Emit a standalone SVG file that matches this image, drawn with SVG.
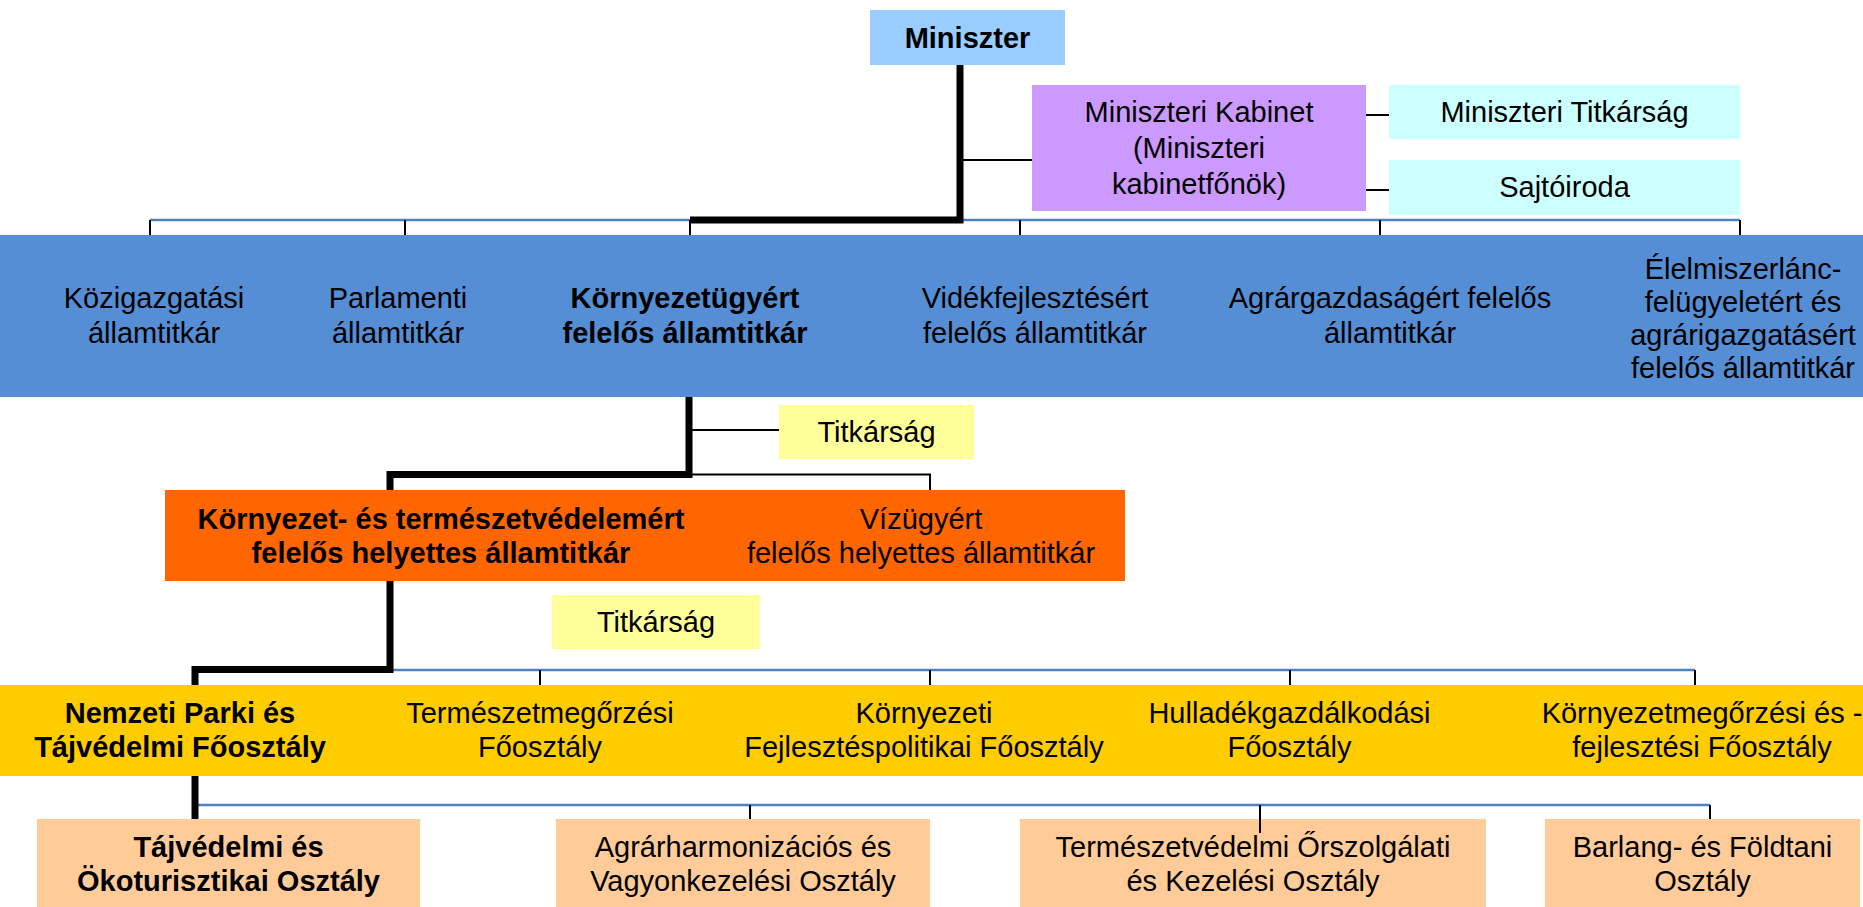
<svg xmlns="http://www.w3.org/2000/svg" width="1863" height="907" viewBox="0 0 1863 907">
<style>
text{font-family:"Liberation Sans",Arial,sans-serif;font-size:29px;fill:#000;text-anchor:middle}
.b{font-weight:bold}
.thick{fill:none;stroke:#000;stroke-width:7;stroke-linejoin:miter}
.thin{fill:none;stroke:#000;stroke-width:2}
.blue{fill:none;stroke:#4F81BD;stroke-width:2.5}
</style>
<rect width="1863" height="907" fill="#fff"/>
<g id="nodes">
<g id="miniszter"><rect x="870" y="10" width="195" height="55" fill="#99CCFF"/><text class="b" x="967.5" y="48">Miniszter</text></g>
<g id="kabinet"><rect x="1032" y="85" width="334" height="126" fill="#CC99FF"/><text x="1199" y="122">Miniszteri Kabinet</text><text x="1199" y="158">(Miniszteri</text><text x="1199" y="194">kabinetfőnök)</text></g>
<g id="min-titkarsag"><rect x="1389" y="85" width="351" height="54" fill="#CCFFFF"/><text x="1564.5" y="122">Miniszteri Titkárság</text></g>
<g id="sajtoiroda"><rect x="1389" y="160" width="351" height="55" fill="#CCFFFF"/><text x="1564.5" y="197">Sajtóiroda</text></g>
<g id="allamtitkarok"><rect x="0" y="235" width="1863" height="162" fill="#558ED5"/>
<text x="154" y="308">Közigazgatási</text><text x="154" y="343">államtitkár</text>
<text x="398" y="308">Parlamenti</text><text x="398" y="343">államtitkár</text>
<text class="b" x="685" y="308">Környezetügyért</text><text class="b" x="685" y="343">felelős államtitkár</text>
<text x="1035" y="308">Vidékfejlesztésért</text><text x="1035" y="343">felelős államtitkár</text>
<text x="1390" y="308">Agrárgazdaságért felelős</text><text x="1390" y="343">államtitkár</text>
<text x="1743" y="279">Élelmiszerlánc-</text><text x="1743" y="312">felügyeletért és</text><text x="1743" y="345">agrárigazgatásért</text><text x="1743" y="378">felelős államtitkár</text>
</g>
<g id="titkarsag1"><rect x="779" y="405" width="195" height="54" fill="#FFFF99"/><text x="876.5" y="442">Titkárság</text></g>
<g id="helyettes"><rect x="165" y="490" width="960" height="91" fill="#FF6600"/>
<text class="b" x="441" y="529">Környezet- és természetvédelemért</text><text class="b" x="441" y="563">felelős helyettes államtitkár</text>
<text x="921" y="529">Vízügyért</text><text x="921" y="563">felelős helyettes államtitkár</text>
</g>
<g id="titkarsag2"><rect x="552" y="595" width="208" height="54" fill="#FFFF99"/><text x="656" y="632">Titkárság</text></g>
<g id="foosztalyok"><rect x="0" y="685" width="1863" height="91" fill="#FFCC00"/>
<text class="b" x="180" y="723">Nemzeti Parki és</text><text class="b" x="180" y="757">Tájvédelmi Főosztály</text>
<text x="540" y="723">Természetmegőrzési</text><text x="540" y="757">Főosztály</text>
<text x="924" y="723">Környezeti</text><text x="924" y="757">Fejlesztéspolitikai Főosztály</text>
<text x="1289.5" y="723">Hulladékgazdálkodási</text><text x="1289.5" y="757">Főosztály</text>
<text x="1702" y="723">Környezetmegőrzési és -</text><text x="1702" y="757">fejlesztési Főosztály</text>
</g>
<g id="osztaly1"><rect x="37" y="819" width="383" height="90" fill="#FFCC99"/><text class="b" x="228.5" y="857">Tájvédelmi és</text><text class="b" x="228.5" y="891">Ökoturisztikai Osztály</text></g>
<g id="osztaly2"><rect x="556" y="819" width="374" height="90" fill="#FFCC99"/><text x="743" y="857">Agrárharmonizációs és</text><text x="743" y="891">Vagyonkezelési Osztály</text></g>
<g id="osztaly3"><rect x="1020" y="819" width="466" height="90" fill="#FFCC99"/><text x="1253" y="857">Természetvédelmi Őrszolgálati</text><text x="1253" y="891">és Kezelési Osztály</text></g>
<g id="osztaly4"><rect x="1545" y="819" width="315" height="90" fill="#FFCC99"/><text x="1702.5" y="857">Barlang- és Földtani</text><text x="1702.5" y="891">Osztály</text></g>
</g>
<g id="connectors">
<path class="blue" d="M150,220 H1740"/>
<path class="thin" d="M150,220 V235 M405,220 V235 M690,220 V235 M1020,220 V235 M1380,220 V235 M1740,220 V235"/>
<path class="thin" d="M960,160 H1032 M1366,115 H1389 M1366,190 H1389"/>
<path class="thick" d="M960,65 V220 H690"/>
<path class="thin" d="M689,430 H779 M689,474.5 H930 V490"/>
<path class="thick" d="M689,397 V474.5 H390 V490"/>
<path class="blue" d="M390,670 H1695"/>
<path class="thin" d="M540,670 V685 M930,670 V685 M1290,670 V685 M1695,670 V685"/>
<path class="thick" d="M390,581 V669.5 H195 V685"/>
<path class="blue" d="M195,805 H1710"/>
<path class="thin" d="M750,805 V819 M1260,805 V833 M1710,805 V819"/>
<path class="thick" d="M195,776 V819"/>
</g>
</svg>
